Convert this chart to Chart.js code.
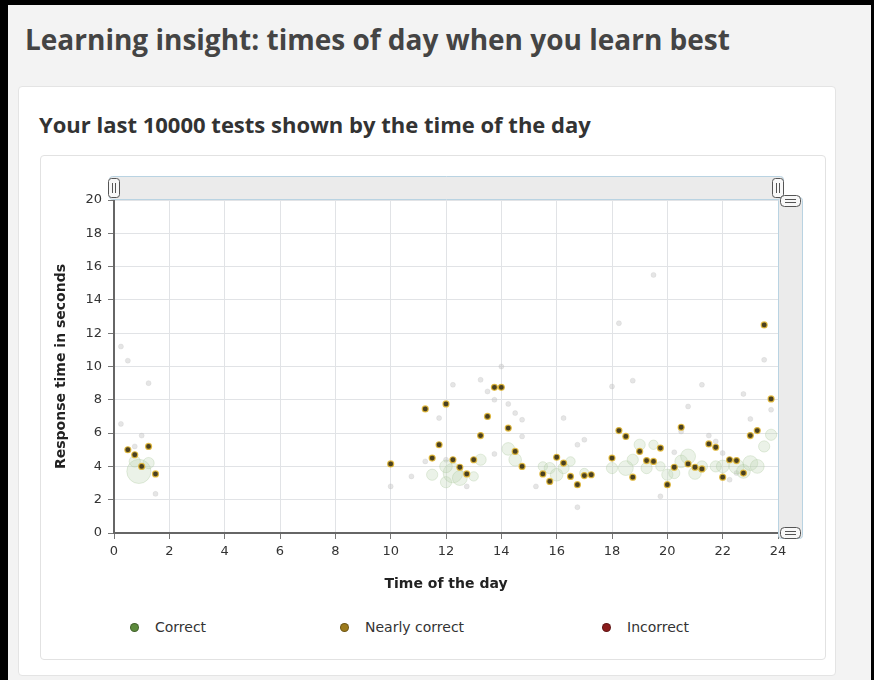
<!DOCTYPE html>
<html>
<head>
<meta charset="utf-8">
<script src="https://cdn.jsdelivr.net/npm/chart.js@4"></script>
<style>
  body { margin: 0; width: 874px; height: 680px; overflow: hidden; background: #000; position: relative; font-family: "Open Sans", sans-serif; }
  .frame { position: absolute; left: 8px; top: 5px; width: 863px; height: 675px; background: #f3f3f3; }
  h1 { position: absolute; left: 25px; top: 21px; margin: 0; font-size: 28px; line-height: 36px; font-weight: 700; color: #444; white-space: nowrap; }
  .card { position: absolute; left: 18px; top: 86px; width: 816px; height: 588px; background: #fff; border: 1px solid #e4e4e4; border-radius: 4px; }
  h2 { position: absolute; left: 39px; top: 109px; margin: 0; font-size: 22px; line-height: 30px; font-weight: 700; color: #333; white-space: nowrap; }
  .chartcard { position: absolute; left: 40px; top: 155px; width: 784px; height: 503px; background: #fff; border: 1px solid #e2e2e2; border-radius: 4px; }
  canvas { position: absolute; left: 41px; top: 156px; }
  .leg { position: absolute; top: 618px; font: 14px "DejaVu Sans", sans-serif; color: #333; line-height: 18px; }
  .leg i { position: absolute; left: -25px; top: 5px; width: 7px; height: 7px; border-radius: 50%; }
</style>
</head>
<body>
<div class="frame"></div>
<h1>Learning insight: times of day when you learn best</h1>
<div class="card"></div>
<h2>Your last 10000 tests shown by the time of the day</h2>
<div class="chartcard"></div>
<canvas id="timeChart" width="784" height="450"></canvas>
<div id="legend"></div>
<script>
// series names and legend colours
const seriesNames = ['Correct', 'Nearly correct', 'Incorrect'];
const legendColors = ['#5c8a3c', '#9c7a1c', '#8a1c1c'];
const legendLeft = [155, 365, 627];

// correct answers: hour, response time, number of tests
const correctX = [0.25, 0.5, 1.25, 0.25, 1.5, 1.0, 0.75, 10.0, 10.75, 11.25, 11.75, 12.0, 12.25, 13.25, 13.5, 13.75,
  14.0, 14.25, 14.5, 14.75, 13.75, 14.75, 12.75, 15.25, 16.25, 16.75, 17.0, 16.75, 18.0, 18.75, 18.25, 19.5,
  19.75, 20.25, 20.5, 20.75, 21.25, 21.5, 22.0, 22.25, 22.75, 23.0, 23.5, 23.75, 21.75, 22.5,
  0.9, 0.75, 1.25, 11.5, 12.0, 12.25, 12.5, 12.0, 13.0, 13.25, 14.25, 14.5, 15.5, 15.75, 16.0, 16.25, 16.5,
  17.0, 18.0, 18.5, 18.75, 19.0, 19.25, 19.5, 19.75, 20.0, 20.25, 20.5, 20.75, 21.0, 21.25, 21.75, 22.0,
  22.5, 22.75, 23.0, 23.25, 23.5, 23.75];
const correctY = [11.2, 10.35, 9.0, 6.55, 2.35, 5.85, 5.2, 2.8, 3.4, 4.3, 6.9, 4.4, 8.9, 9.2, 8.5, 8.0,
  10.0, 7.75, 7.2, 6.8, 4.75, 5.8, 2.8, 2.8, 6.9, 5.3, 5.6, 1.55, 8.8, 9.15, 12.6, 15.5,
  2.2, 4.85, 6.1, 7.6, 8.9, 5.85, 4.8, 3.2, 8.35, 6.85, 10.4, 7.4, 5.5, 3.6,
  3.7, 4.3, 4.2, 3.5, 3.05, 3.6, 3.3, 4.0, 3.4, 4.4, 5.05, 4.4, 4.0, 3.9, 3.5, 3.9, 4.3,
  3.6, 3.9, 3.9, 4.4, 5.3, 3.9, 5.3, 4.0, 3.5, 3.6, 4.3, 4.6, 3.6, 4.0, 4.0, 4.0,
  4.0, 3.7, 4.2, 4.0, 5.2, 5.9];
const correctN = [1, 1, 1, 1, 1, 1, 1, 1, 1, 1, 1, 1, 1, 1, 1, 1,
  1, 1, 1, 1, 1, 1, 1, 1, 1, 1, 1, 1, 1, 1, 1, 1,
  1, 1, 1, 1, 1, 1, 1, 1, 1, 1, 1, 1, 1, 1,
  20, 3, 3, 3, 3, 12, 6, 4, 2, 3, 4, 4, 2, 3, 4, 3, 2,
  2, 3, 6, 3, 3, 3, 2, 2, 3, 3, 4, 6, 4, 3, 3, 4,
  6, 5, 6, 5, 3, 3];

// nearly correct answers: hour, response time
const nearlyX = [0.5, 0.75, 1.0, 1.25, 1.5, 10.0, 11.25, 11.5, 11.75, 12.0, 12.25, 12.5, 12.75, 13.0, 13.25, 13.5,
  13.75, 14.0, 14.25, 14.5, 14.75, 15.5, 15.75, 16.0, 16.25, 16.5, 16.75, 17.0, 17.25, 18.0, 18.25, 18.5,
  18.75, 19.0, 19.25, 19.5, 19.75, 20.0, 20.25, 20.5, 20.75, 21.0, 21.25, 21.5, 21.75, 22.0, 22.25, 22.5,
  22.75, 23.0, 23.25, 23.5, 23.75];
const nearlyY = [5.0, 4.7, 4.0, 5.2, 3.55, 4.15, 7.45, 4.5, 5.3, 7.75, 4.4, 3.95, 3.55, 4.4, 5.85, 7.0,
  8.75, 8.75, 6.3, 4.9, 4.0, 3.55, 3.1, 4.55, 4.2, 3.4, 2.9, 3.45, 3.5, 4.5, 6.15, 5.8,
  3.35, 4.9, 4.35, 4.3, 5.1, 2.9, 3.95, 6.35, 4.15, 3.95, 3.85, 5.35, 5.15, 3.35, 4.4, 4.35,
  3.6, 5.85, 6.15, 12.5, 8.05];

// incorrect answers: none in this period
const incorrectX = [];
const incorrectY = [];

const xTicks = [0, 2, 4, 6, 8, 10, 12, 14, 16, 18, 20, 22, 24];
const yTicks = [0, 2, 4, 6, 8, 10, 12, 14, 16, 18, 20];

const correctData = correctX.map((x, i) => ({ x: x, y: correctY[i], n: correctN[i] }));
const nearlyData = nearlyX.map((x, i) => ({ x: x, y: nearlyY[i] }));
const incorrectData = incorrectX.map((x, i) => ({ x: x, y: incorrectY[i] }));

// html legend
const legend = document.getElementById('legend');
seriesNames.forEach((name, i) => {
  const el = document.createElement('div');
  el.className = 'leg';
  el.style.left = legendLeft[i] + 'px';
  el.innerHTML = '<i style="background:' + legendColors[i] + ';border:1px solid rgba(0,0,0,0.3)"></i>' + name;
  legend.appendChild(el);
});

function box(ctx, x, y, w, h, r, fill, stroke) {
  ctx.beginPath();
  ctx.roundRect(x, y, w, h, r);
  ctx.fillStyle = fill;
  ctx.fill();
  ctx.strokeStyle = stroke;
  ctx.lineWidth = 1;
  ctx.stroke();
}

// scroll bars around the plot
const scrollbars = {
  id: 'scrollbars',
  afterDraw(chart) {
    const ctx = chart.ctx;
    const a = chart.chartArea;
    ctx.save();
    box(ctx, a.left - 4.5, a.top - 23.5, a.right - a.left + 10, 23, 3, '#ebebeb', '#b9d3e2');
    box(ctx, a.right + 0.5, a.top - 2.5, 24, a.bottom - a.top + 8, 3, '#ebebeb', '#b9d3e2');
    // vertical handles
    [a.left, a.right].forEach(x => {
      box(ctx, x - 5.5, a.top - 21.5, 11, 19, 3, '#f8f8f8', '#555');
      ctx.beginPath();
      ctx.moveTo(x - 1.5, a.top - 17); ctx.lineTo(x - 1.5, a.top - 7);
      ctx.moveTo(x + 1.5, a.top - 17); ctx.lineTo(x + 1.5, a.top - 7);
      ctx.strokeStyle = '#555';
      ctx.stroke();
    });
    // horizontal handles
    [a.top + 1, a.bottom].forEach(y => {
      box(ctx, a.right + 2.5, y - 5.5, 20, 11, 4, '#f8f8f8', '#555');
      ctx.beginPath();
      ctx.moveTo(a.right + 7, y - 1.5); ctx.lineTo(a.right + 18, y - 1.5);
      ctx.moveTo(a.right + 7, y + 1.5); ctx.lineTo(a.right + 18, y + 1.5);
      ctx.strokeStyle = '#555';
      ctx.stroke();
    });
    ctx.restore();
  }
};

const tickFont = { family: 'DejaVu Sans', size: 13 };
const titleFont = { family: 'DejaVu Sans', size: 14, weight: 'bold' };

new Chart(document.getElementById('timeChart'), {
  type: 'scatter',
  data: {
    datasets: [{
      label: seriesNames[0],
      data: correctData,
      order: 3,
      pointRadius: ctx => 2.5 + 2.2 * Math.sqrt((ctx.raw ? ctx.raw.n : 1) - 1),
      backgroundColor: ctx => (ctx.raw && ctx.raw.n > 1) ? 'rgba(190,212,178,0.3)' : 'rgba(190,190,190,0.4)',
      borderColor: ctx => (ctx.raw && ctx.raw.n > 1) ? 'rgba(165,195,150,0.3)' : 'rgba(190,190,190,0.25)',
      borderWidth: 1
    }, {
      label: seriesNames[1],
      data: nearlyData,
      order: 1,
      pointRadius: 3,
      backgroundColor: '#4a4020',
      borderColor: 'rgba(228,185,50,0.85)',
      borderWidth: 1.2
    }, {
      label: seriesNames[2],
      data: incorrectData,
      order: 2,
      pointRadius: 3,
      backgroundColor: legendColors[2]
    }]
  },
  options: {
    responsive: false,
    animation: false,
    layout: { padding: { left: 8, top: 44, right: 47, bottom: 7 } },
    plugins: {
      legend: { display: false },
      tooltip: { enabled: false }
    },
    scales: {
      x: {
        type: 'linear',
        min: 0,
        max: 24,
        afterBuildTicks: s => { s.ticks = xTicks.map(v => ({ value: v })); },
        afterFit: s => { s.height = 66; },
        ticks: { font: tickFont, color: '#333', padding: 5 },
        grid: { color: '#e1e3e6', tickColor: '#777', tickLength: 6 },
        border: { color: '#666', width: 2 },
        title: { display: true, text: 'Time of the day', font: titleFont, color: '#222', padding: { top: 4, bottom: 6 } }
      },
      y: {
        min: 0,
        max: 20,
        afterBuildTicks: s => { s.ticks = yTicks.map(v => ({ value: v })); },
        afterFit: s => { s.width = 65; },
        ticks: { font: tickFont, color: '#333', padding: 6 },
        grid: { color: '#e1e3e6', tickColor: '#777', tickLength: 6 },
        border: { color: '#666', width: 2 },
        title: { display: true, text: 'Response time in seconds', font: titleFont, color: '#222', padding: 4 }
      }
    }
  },
  plugins: [scrollbars]
});
</script>
</body>
</html>
